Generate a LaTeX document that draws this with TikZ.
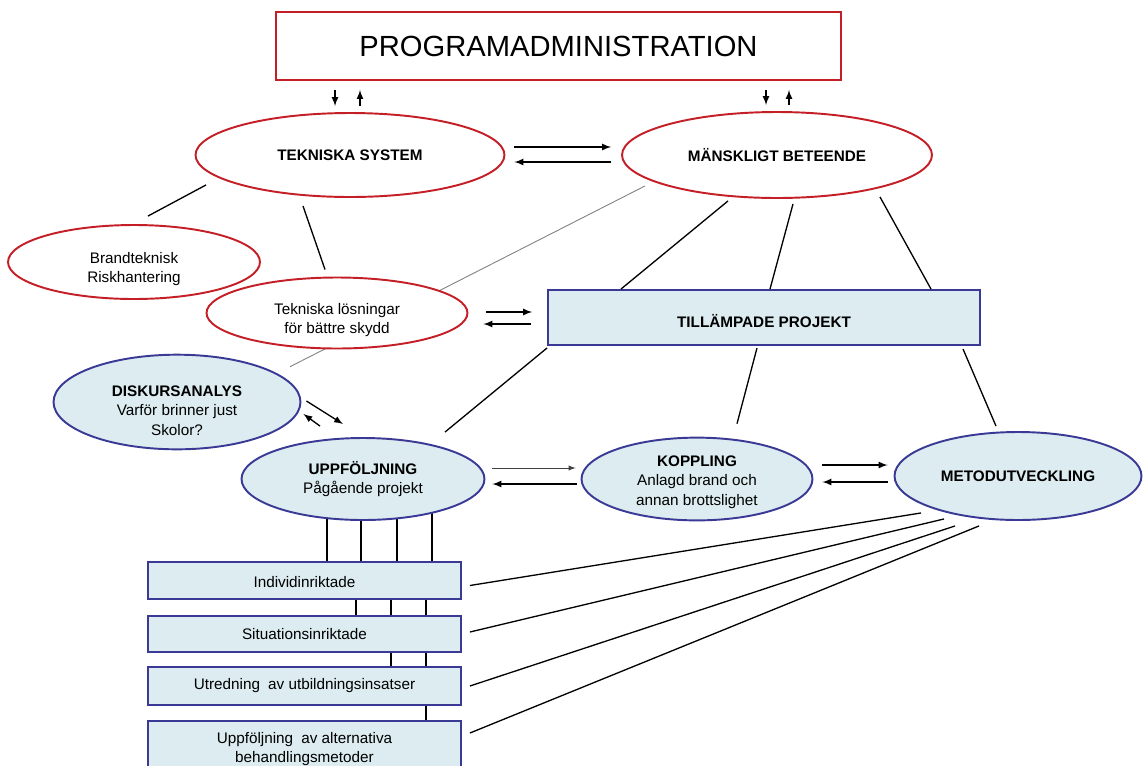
\documentclass[tikz,border=0pt]{standalone}
\usepackage{fontspec}
\setmainfont{Liberation Sans}
\usetikzlibrary{shapes.geometric,backgrounds}
\definecolor{rodkant}{RGB}{196,30,38}
\definecolor{blakant}{RGB}{58,58,150}
\definecolor{ljusbla}{RGB}{220,236,240}
\begin{document}
\begin{tikzpicture}[x=0.02cm,y=-0.02cm,>=latex,
  every node/.style={font=\fontsize{8.7}{11}\selectfont,align=center,inner sep=0pt},
  redell/.style={ellipse,draw=rodkant,line width=1.1pt,fill=white},
  blueell/.style={ellipse,draw=blakant,line width=1.1pt,fill=ljusbla},
  bluebox/.style={rectangle,draw=blakant,line width=1.1pt,fill=ljusbla,minimum width=6.26cm},
  conn/.style={line width=0.75pt}]
\useasboundingbox (0,0) rectangle (1143,765);
\node[draw=rodkant,line width=1.1pt,minimum width=11.3cm,minimum height=1.36cm,font=\fontsize{16.6}{20}\selectfont] (PA) at (558.5,46) {PROGRAMADMINISTRATION};
\node[redell,minimum width=6.18cm,minimum height=1.68cm] (TS) at (350,155) {\textbf{TEKNISKA SYSTEM}};
\node[redell,minimum width=6.2cm,minimum height=1.72cm] (MB) at (777,155) {\textbf{MÄNSKLIGT BETEENDE}};
\node[redell,minimum width=5.04cm,minimum height=1.48cm] (BR) at (134,262) {\rule{0pt}{14pt}Brandteknisk\\Riskhantering};
\node[redell,minimum width=5.22cm,minimum height=1.42cm] (TL) at (337,313) {\rule{0pt}{14pt}Tekniska lösningar\\för bättre skydd};
\node[blueell,minimum width=4.94cm,minimum height=1.8cm] (DA) at (177,402) {\rule{0pt}{16pt}\textbf{DISKURSANALYS}\\Varför brinner just\\Skolor?};
\node[bluebox,minimum width=8.64cm,minimum height=1.1cm] (TP) at (764,317.5) {\rule{0pt}{11.5pt}\textbf{TILLÄMPADE PROJEKT}};
\node[blueell,minimum width=4.86cm,minimum height=1.64cm] (UPP) at (363,479) {\textbf{UPPFÖLJNING}\\Pågående projekt};
\node[blueell,minimum width=4.62cm,minimum height=1.64cm] (KOP) at (697,479) {\rule{0pt}{9.5pt}\textbf{KOPPLING}\\Anlagd brand och\\annan brottslighet};
\node[blueell,minimum width=4.94cm,minimum height=1.76cm] (MET) at (1018,476) {\textbf{METODUTVECKLING}};
\node[bluebox,minimum height=0.74cm] (IND) at (304.5,580.5) {\rule{0pt}{8pt}Individinriktade};
\node[bluebox,minimum height=0.72cm] (SIT) at (304.5,634) {Situationsinriktade};
\node[bluebox,minimum height=0.76cm] (UTR) at (304.5,686) {Utredning\hspace{0.25em} av utbildningsinsatser};
\node[bluebox,minimum height=1.12cm] (UPPF) at (304.5,749) {Uppföljning\hspace{0.25em} av alternativa\\behandlingsmetoder};
% programadministration
\draw[->,conn,shorten <=0.18cm,shorten >=0.12cm] ([xshift=-0.3cm]PA.south -| TS.north) -- ([xshift=-0.3cm]TS.north);
\draw[->,conn,shorten <=0.12cm,shorten >=0.18cm] ([xshift=0.2cm]TS.north) -- ([xshift=0.2cm]PA.south -| TS.north);
\draw[->,conn,shorten <=0.18cm,shorten >=0.12cm] ([xshift=-0.22cm]PA.south -| MB.north) -- ([xshift=-0.22cm]MB.north);
\draw[->,conn,shorten <=0.12cm,shorten >=0.18cm] ([xshift=0.24cm]MB.north) -- ([xshift=0.24cm]PA.south -| MB.north);
% arrow pairs
\draw[->,conn,shorten <=0.18cm,shorten >=0.2cm] ([yshift=0.16cm]TS.east) -- ([yshift=0.16cm]TS.east -| MB.west);
\draw[->,conn,shorten <=0.2cm,shorten >=0.18cm] ([yshift=-0.14cm]TS.east -| MB.west) -- ([yshift=-0.14cm]TS.east);
\draw[->,conn,shorten <=0.36cm,shorten >=0.3cm] ([yshift=0.02cm]TL.east) -- ([yshift=0.02cm]TL.east -| TP.west);
\draw[->,conn,shorten <=0.32cm,shorten >=0.3cm] ([yshift=-0.22cm]TL.east -| TP.west) -- ([yshift=-0.22cm]TL.east);
\draw[->,line width=0.4pt,black!75,shorten <=0.14cm,shorten >=0.1cm] ([yshift=0.22cm]UPP.east) -- ([yshift=0.22cm]UPP.east -| KOP.west);
\draw[->,conn,shorten <=0.08cm,shorten >=0.14cm] ([yshift=-0.1cm]UPP.east -| KOP.west) -- ([yshift=-0.1cm]UPP.east);
\draw[->,conn,shorten <=0.18cm,shorten >=0.12cm] ([yshift=0.28cm]KOP.east) -- ([yshift=0.28cm]KOP.east -| MET.west);
\draw[->,conn,shorten <=0.12cm,shorten >=0.18cm] ([yshift=-0.06cm]KOP.east -| MET.west) -- ([yshift=-0.06cm]KOP.east);
\draw[->,conn] ([shift={(5,-1)}]DA.east) -- ([shift={(-20,-13)}]UPP.north);
\draw[->,conn] ([shift={(-43,-11)}]UPP.north) -- ([shift={(2,12)}]DA.east);
% lines
\draw[conn] ([shift={(14,-8)}]BR.north) -- ([shift={(-144,-13)}]TS.south);
\draw[conn] ([shift={(-47,8)}]TS.south) -- ([shift={(-12,-7)}]TL.north);
\draw[conn] ([shift={(-49,2)}]MB.south) -- ([shift={(-143,0)}]TP.north);
\draw[conn] ([shift={(16,5)}]MB.south) -- ([shift={(6,0)}]TP.north);
\draw[conn] ([shift={(103,-2)}]MB.south) -- ([shift={(167,0)}]TP.north);
\draw[conn] ([shift={(0,2)}]TP.south west) -- ([shift={(82,-5)}]UPP.north);
\draw[conn] ([shift={(-7,2)}]TP.south) -- ([shift={(40,-13)}]KOP.north);
\draw[conn] ([shift={(199,3)}]TP.south) -- ([shift={(-22,-5)}]MET.north);
\draw[conn] ([shift={(-97,-8)}]MET.south) -- ([shift={(8,5)}]IND.east);
\draw[conn] ([shift={(-74,-2)}]MET.south) -- ([shift={(8,-2)}]SIT.east);
\draw[conn] ([shift={(-63,5)}]MET.south) -- ([shift={(8,0)}]UTR.east);
\draw[conn] ([shift={(-39,5)}]MET.south) -- ([shift={(8,-16)}]UPPF.east);
\begin{pgfonlayer}{background}
\draw[gray,line width=0.5pt] ([shift={(-132,-13)}]MB.south) -- ([shift={(113,13)}]DA.north);
\draw[conn] ([shift={(22.5,0)}]IND.north) -- ([shift={(22.5,0)}]IND.north |- UPP.center);
\draw[conn] ([shift={(56.5,0)}]IND.north) -- ([shift={(56.5,0)}]IND.north |- UPP.center);
\draw[conn] ([shift={(92.5,0)}]IND.north) -- ([shift={(92.5,0)}]IND.north |- UPP.center);
\draw[conn] ([shift={(127.5,0)}]IND.north) -- ([shift={(127.5,0)}]IND.north |- UPP.center);
\draw[conn] ([shift={(51.5,0)}]SIT.north) -- ([shift={(51.5,0)}]SIT.north |- IND.center);
\draw[conn] ([shift={(86.5,0)}]SIT.north) -- ([shift={(86.5,0)}]SIT.north |- IND.center);
\draw[conn] ([shift={(121.5,0)}]SIT.north) -- ([shift={(121.5,0)}]SIT.north |- IND.center);
\draw[conn] ([shift={(86.5,0)}]UTR.north) -- ([shift={(86.5,0)}]UTR.north |- SIT.center);
\draw[conn] ([shift={(121.5,0)}]UTR.north) -- ([shift={(121.5,0)}]UTR.north |- SIT.center);
\draw[conn] ([shift={(121.5,0)}]UPPF.north) -- ([shift={(121.5,0)}]UPPF.north |- UTR.center);
\end{pgfonlayer}
\end{tikzpicture}
\end{document}
